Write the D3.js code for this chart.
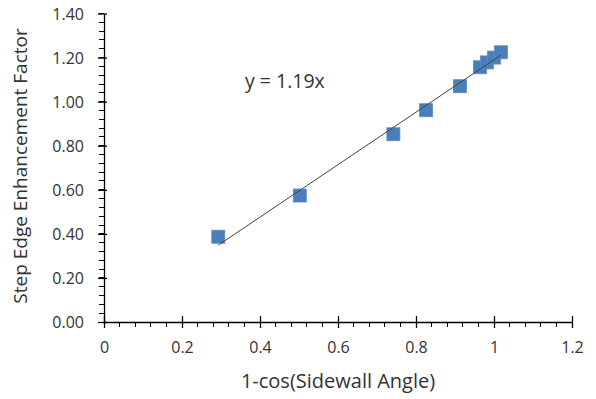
<!DOCTYPE html>
<html><head><meta charset="utf-8">
<script src="https://cdn.jsdelivr.net/npm/d3@7"></script>
<style>body{margin:0;background:#fff}svg{display:block}text{font-family:"Open Sans",sans-serif;fill:#333}</style>
</head><body>
<script>
const xValues = [0.293, 0.502, 0.742, 0.826, 0.913, 0.964, 0.982, 1.000, 1.018];
const yValues = [0.387, 0.574, 0.852, 0.961, 1.070, 1.156, 1.178, 1.200, 1.224];
const slope = 1.19;
const xTicks = [0, 0.2, 0.4, 0.6, 0.8, 1, 1.2];
const yTicks = [0, 0.2, 0.4, 0.6, 0.8, 1.0, 1.2, 1.4];
const equationLabel = "y = 1.19x";
const xTitle = "1-cos(Sidewall Angle)";
const yTitle = "Step Edge Enhancement Factor";

const W = 596, H = 399;
const svg = d3.select("body").append("svg").attr("width", W).attr("height", H);
const x = d3.scaleLinear().domain([0, 1.2]).range([104, 572]);
const y = d3.scaleLinear().domain([0, 1.4]).range([322, 13.5]);

// minor ticks
const xMinor = d3.range(0, 1.2001, 0.04);
const yMinor = d3.range(0, 1.4001, 0.04);
svg.append("g").selectAll("line").data(xMinor).join("line")
  .attr("x1", d => x(d)).attr("x2", d => x(d)).attr("y1", y(0)).attr("y2", y(0) + 5)
  .attr("stroke", "#000").attr("stroke-width", 1).attr("shape-rendering", "crispEdges");
svg.append("g").selectAll("line").data(yMinor).join("line")
  .attr("y1", d => y(d)).attr("y2", d => y(d)).attr("x1", x(0) - 5).attr("x2", x(0))
  .attr("stroke", "#000").attr("stroke-width", 1).attr("shape-rendering", "crispEdges");

// axes
const xAxis = d3.axisBottom(x).tickValues(xTicks).tickFormat(d3.format("")).tickSizeInner(6).tickSizeOuter(0).tickPadding(14);
const gx = svg.append("g").attr("transform", `translate(0,${y(0)})`).call(xAxis);
gx.selectAll(".tick line").attr("y1", -6);
const yAxis = d3.axisLeft(y).tickValues(yTicks).tickFormat(d3.format(".2f")).tickSizeInner(6).tickSizeOuter(0).tickPadding(14);
const gy = svg.append("g").attr("transform", `translate(${x(0)},0)`).call(yAxis);
gy.selectAll(".tick line").attr("x1", 3);
[gx, gy].forEach(g => {
  g.select(".domain").attr("stroke", "#000").attr("stroke-width", 1.3);
  g.selectAll(".tick line").attr("stroke", "#000").attr("stroke-width", 1.3);
  g.selectAll(".tick text").attr("font-family", '"Open Sans",sans-serif').attr("font-size", 16).attr("fill", "#333");
});
gy.selectAll(".tick text").attr("dy", "0.35em");

// trendline
const xmin = d3.min(xValues), xmax = d3.max(xValues);

// markers
const s = 13;
const pts = xValues.map((v, i) => [v, yValues[i]]);
svg.append("g").selectAll("rect").data(pts).join("rect")
  .attr("x", d => x(d[0]) - s / 2).attr("y", d => y(d[1]) - s / 2)
  .attr("width", s).attr("height", s)
  .attr("fill", "#4A7EBB").attr("stroke", "#5B8BC6").attr("stroke-width", 0.8);

// trendline on top of markers
svg.append("line")
  .attr("x1", x(xmin)).attr("y1", y(slope * xmin))
  .attr("x2", x(xmax)).attr("y2", y(slope * xmax))
  .attr("stroke", "#444").attr("stroke-width", 1);

// equation
svg.append("text").attr("x", 245).attr("y", 88).attr("font-size", 19.5).text(equationLabel);

// titles
svg.append("text").attr("x", 338).attr("y", 388).attr("text-anchor", "middle").attr("font-size", 20).text(xTitle);
svg.append("text").attr("transform", "translate(27,166) rotate(-90)").attr("text-anchor", "middle").attr("font-size", 19).text(yTitle);
</script>
</body></html>
